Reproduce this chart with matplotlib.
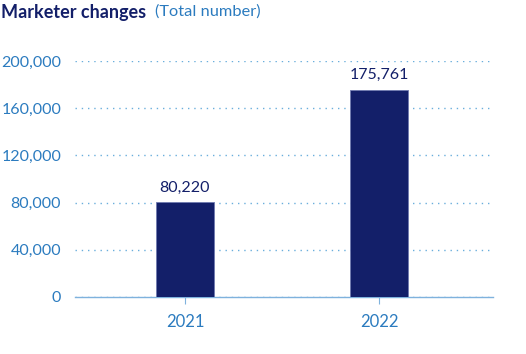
import matplotlib.pyplot as plt
from matplotlib.ticker import FuncFormatter

years = ["2021", "2022"]
values = [80220, 175761]
yticks = [0, 40000, 80000, 120000, 160000, 200000]

navy = "#131f69"
blue = "#2b7bbf"
grid_blue = "#6aaedc"

plt.rcParams['font.family'] = ['Lato', 'DejaVu Sans']

fig = plt.figure(figsize=(5.26, 3.54), dpi=100)
ax = fig.add_axes([75/526, 57/354, 418/526, 236/354])

x = range(len(years))
bars = ax.bar(x, values, width=0.30, color=navy, edgecolor="#6f7ab0", linewidth=0.6, zorder=3)
for xi, v in zip(x, values):
    ax.text(xi, v + 6500, f"{v:,}", ha="center", va="bottom", fontsize=11.5, color=navy)

ax.set_xlim(-0.567, 1.588)
ax.set_ylim(0, 200000)
ax.set_yticks(yticks)
ax.yaxis.set_major_formatter(FuncFormatter(lambda v, p: f"{int(v):,}"))
ax.set_xticks(list(x))
ax.set_xticklabels(years)

ax.yaxis.grid(True, linestyle=(0, (1, 3.5)), color=grid_blue, linewidth=1.0)
ax.set_axisbelow(True)
for s in ["top", "right", "left"]:
    ax.spines[s].set_visible(False)
ax.spines["bottom"].set_color("#7fb2dd")
ax.spines["bottom"].set_linewidth(1.0)
ax.tick_params(axis="y", length=0, pad=10, labelsize=11.5, labelcolor=blue)
ax.tick_params(axis="x", length=5, color="#7fb2dd", pad=7, labelsize=12, labelcolor=blue)

fig.text(0.002, 0.966, "Marketer changes", fontsize=13.0, fontweight="bold", color=navy, va="center")
fig.text(0.295, 0.966, "(Total number)", fontsize=11.8, color=blue, va="center")

fig.savefig("out.png", dpi=100)
